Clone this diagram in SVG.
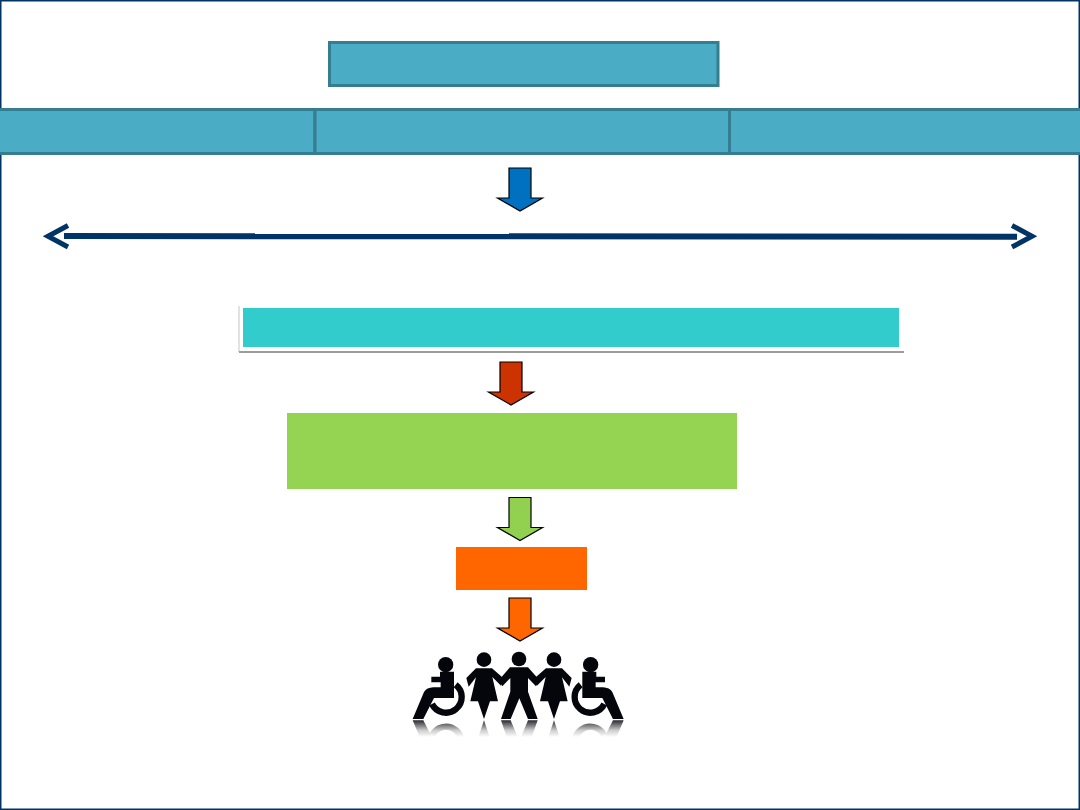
<svg xmlns="http://www.w3.org/2000/svg" xmlns:xlink="http://www.w3.org/1999/xlink" width="1080" height="810" viewBox="0 0 1080 810">
  <style>
    .band { fill: #4bacc6; stroke: #357d91; stroke-width: 3; }
    .down { stroke: #000; stroke-width: 1.2; stroke-linejoin: miter; }
    .axis { fill: none; stroke: #003366; stroke-width: 6; }
    .tip { fill: none; stroke: #003366; stroke-width: 5; }
    .ink { fill: #05060c; }
    .wheel { fill: none; stroke: #05060c; stroke-width: 19; }
  </style>
  <defs>
    <path id="downArrow" d="M-11 0H11V30H22.500L0 43L-22.500 30H-11Z"/>
    <linearGradient id="fade" x1="0" y1="0" x2="0" y2="1">
      <stop offset="0" stop-color="#fff" stop-opacity="0.1"/>
      <stop offset="0.4" stop-color="#fff" stop-opacity="0.8"/>
      <stop offset="0.65" stop-color="#fff" stop-opacity="1"/>
    </linearGradient>
    <clipPath id="floor"><rect x="30" y="389" width="650" height="60"/></clipPath>
    <g id="chair">
      <circle class="ink" cx="137" cy="224" r="23"/>
      <path class="ink" d="M120 245H162V324H102L70 387H38L72 306Q80 293 100 292H122V277H94V260H120Z"/>
      <path class="wheel" d="M167 284A47 47 0 1 1 96 342"/>
    </g>
    <g id="woman">
      <circle class="ink" cx="252" cy="209" r="22"/>
      <path class="ink" d="M228 235H276L312 266L303 287L277 261L294 334H270L252 387L234 334H211L228 262L206 290L199 264Z"/>
    </g>
    <g id="crowd">
      <use xlink:href="#chair"/>
      <use xlink:href="#woman"/>
      <use xlink:href="#woman" transform="matrix(-1 0 0 1 714 0)"/>
      <use xlink:href="#chair" transform="matrix(-1 0 0 1 709 0)"/>
      <circle class="ink" cx="357" cy="207" r="22"/>
      <path class="ink" d="M330 232H384L418 270L408 289L384 264V305L413 387H384L358 325L332 387H303L331 305V264L307 289L297 270Z"/>
    </g>
  </defs>

  <rect width="1080" height="810" fill="#fff"/>
  <rect x="0.75" y="0.75" width="1078.5" height="808.5" fill="none" stroke="#003366" stroke-width="1.5"/>

  <g id="title"><rect class="band" x="329.5" y="42.5" width="388.500" height="43"/></g>
  <g id="band-left"><rect class="band" x="-3" y="109.5" width="318" height="44"/></g>
  <g id="band-middle"><rect class="band" x="315" y="109.5" width="414.5" height="44"/></g>
  <g id="band-right"><rect class="band" x="729.5" y="109.5" width="354" height="44"/></g>

  <g id="banner">
    <path d="M239 306V352" fill="none" stroke="#d9d9d9" stroke-width="1.500"/>
    <path d="M239 352H904" fill="none" stroke="#9c9c9c" stroke-width="2"/>
    <rect x="243" y="308" width="656" height="39" fill="#33cccc"/>
  </g>
  <g id="summary"><rect x="287" y="413" width="450" height="76" fill="#95d452"/></g>
  <g id="result"><rect x="456" y="547" width="131" height="43" fill="#ff6600"/></g>

  <g id="connectors">
    <use xlink:href="#downArrow" class="down" transform="translate(520 168)" fill="#0070c0"/>
    <use xlink:href="#downArrow" class="down" transform="translate(511 362)" fill="#cc3300"/>
    <use xlink:href="#downArrow" class="down" transform="translate(520 497.500)" fill="#92d050"/>
    <use xlink:href="#downArrow" class="down" transform="translate(520 598)" fill="#ff6600"/>
    <path class="axis" d="M64 236L1017 236.700"/>
    <path class="tip" d="M68 225.500L48 236.300L68 247M1012 225.500L1032 236.300L1012 247"/>
  </g>

  <g id="people" transform="translate(400 590) scale(0.3333)">
    <use xlink:href="#crowd"/>
    <g clip-path="url(#floor)">
      <g transform="matrix(1 0 0 -1 0 778)"><use xlink:href="#crowd"/></g>
    </g>
    <rect x="30" y="389" width="650" height="80" fill="url(#fade)"/>
  </g>
</svg>
